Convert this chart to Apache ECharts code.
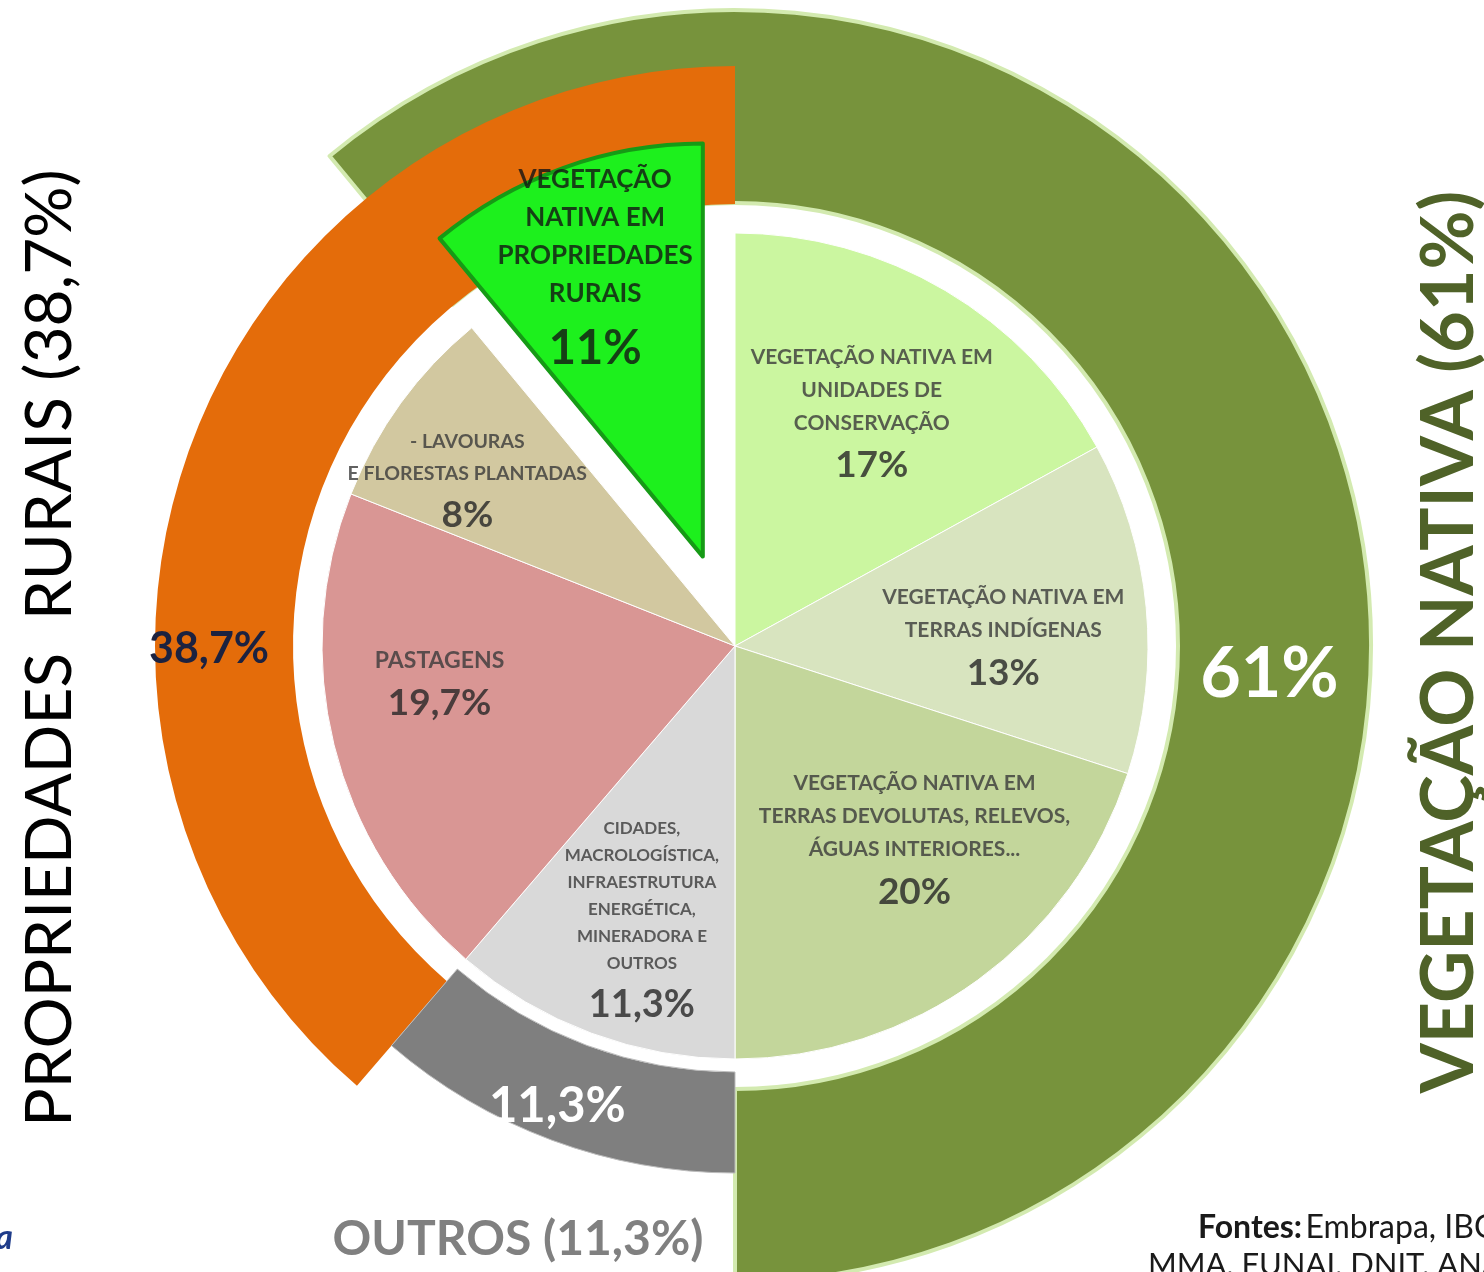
<!DOCTYPE html>
<html><head><meta charset="utf-8">
<script src="https://cdn.jsdelivr.net/npm/echarts@6/dist/echarts.min.js"></script>
<style>html,body{margin:0;padding:0;background:#fff}#c{width:1484px;height:1272px}</style>
</head><body><div id="c"></div>
<script>
// ---- data ----
const categories = [
  'VEGETAÇÃO NATIVA EM\nUNIDADES DE\nCONSERVAÇÃO',
  'VEGETAÇÃO NATIVA EM\nTERRAS INDÍGENAS',
  'VEGETAÇÃO NATIVA EM\nTERRAS DEVOLUTAS, RELEVOS,\nÁGUAS INTERIORES...',
  'CIDADES,\nMACROLOGÍSTICA,\nINFRAESTRUTURA\nENERGÉTICA,\nMINERADORA E\nOUTROS',
  'PASTAGENS',
  '- LAVOURAS\nE FLORESTAS PLANTADAS',
  'VEGETAÇÃO\nNATIVA EM\nPROPRIEDADES\nRURAIS'
];
const values = [17, 13, 20, 11.3, 19.7, 8, 11];
const valueLabels = ['17%', '13%', '20%', '11,3%', '19,7%', '8%', '11%'];
const ringNames = ['VEGETAÇÃO NATIVA', 'PROPRIEDADES RURAIS', 'OUTROS'];
const ringValues = [61, 38.7, 11.3];
const ringLabels = ['61%', '38,7%', '11,3%'];
const titleLeft = 'PROPRIEDADES  RURAIS (38,7%)';
const titleRight = 'VEGETAÇÃO NATIVA (61%)';
const titleBottom = 'OUTROS (11,3%)';

// ---- styles / layout ----
const FONT = 'Lato, "Open Sans", sans-serif';
const CX = 735, CY = 646, PIE_R = 413;
const EXPLODE = 95, LABEL_R = 276.5;
const sliceColors = ['#cbf6a0', '#d8e4bf', '#c3d69b', '#d9d9d9', '#d99694', '#d2c8a0', '#1df01d'];
const textStyle = ['m', 'm', 'm', 's', 'p', 't', 'l'];
const numStyle = ['n', 'n', 'n', 'ns', 'n', 'n', 'nl'];
const labelOffsets = [[-4, 8], [-7, 20], [17, -27], [3, 18], [-27, -26], [-44, 0], [-14, -24]];
const explodedIndex = 6;

const rich = {
  m: {fontFamily: FONT, fontWeight: 'bold', fontSize: 21, lineHeight: 33, color: '#3a3a3a', align: 'center'},
  p: {fontFamily: FONT, fontWeight: 'bold', fontSize: 23, lineHeight: 33, color: '#3a3a3a', align: 'center'},
  s: {fontFamily: FONT, fontWeight: 'bold', fontSize: 17, lineHeight: 27, color: '#3a3a3a', align: 'center'},
  t: {fontFamily: FONT, fontWeight: 'bold', fontSize: 19.5, lineHeight: 32, color: '#3a3a3a', align: 'center'},
  l: {fontFamily: FONT, fontWeight: 'bold', fontSize: 26, lineHeight: 38, color: '#141414', align: 'center'},
  n: {fontFamily: FONT, fontWeight: 'bold', fontSize: 37, lineHeight: 52, color: '#262626', align: 'center'},
  ns: {fontFamily: FONT, fontWeight: 'bold', fontSize: 38, lineHeight: 54, color: '#262626', align: 'center'},
  nl: {fontFamily: FONT, fontWeight: 'bold', fontSize: 47, lineHeight: 72, color: '#141414', align: 'center'}
};

function labelText(i) {
  const st = textStyle[i];
  const lines = categories[i].split('\n').map(s => '{' + st + '|' + s + '}');
  lines.push('{' + numStyle[i] + '|' + valueLabels[i] + '}');
  return lines.join('\n');
}

const innerData = values.map((v, i) => ({
  name: categories[i], value: v, selected: i === explodedIndex,
  itemStyle: i === explodedIndex
    ? {color: sliceColors[i], borderColor: '#169a16', borderWidth: 4}
    : {color: sliceColors[i], borderColor: '#ffffff', borderWidth: 1}
}));

// label anchor points in polar coords (radius, angle value), angle = middle of each slice
let cum = 0;
const labelPoints = values.map((v, i) => {
  const mid = cum + v / 2; cum += v;
  return {value: [LABEL_R + (i === explodedIndex ? EXPLODE : 0), mid], label: {offset: labelOffsets[i]}};
});

function ring(idx, radius, startAngle, clockwise, color, lblColor, lblSize, lblOffset, extra) {
  return {
    type: 'pie', center: [CX, CY], radius: radius, startAngle: startAngle, clockwise: clockwise,
    silent: true, avoidLabelOverlap: false, labelLine: {show: false},
    emphasis: {disabled: true},
    data: [
      {name: ringNames[idx], value: ringValues[idx],
       itemStyle: Object.assign({color: color}, extra || {}),
       label: {show: true, position: 'inside', formatter: ringLabels[idx], color: lblColor,
               fontFamily: FONT, fontWeight: 'bold', fontSize: lblSize, offset: lblOffset}},
      {name: '', value: 100 - ringValues[idx], itemStyle: {color: 'rgba(0,0,0,0)', borderWidth: 0}, label: {show: false}}
    ]
  };
}

const chart = echarts.init(document.getElementById('c'), null, {renderer: 'canvas'});
chart.setOption({
  backgroundColor: '#ffffff',
  animation: false,
  polar: {center: [CX, CY], radius: [0, PIE_R]},
  angleAxis: {type: 'value', min: 0, max: 100, startAngle: 90, clockwise: true, show: false,
              axisLine: {show: false}, axisLabel: {show: false}, axisTick: {show: false}, splitLine: {show: false}},
  radiusAxis: {type: 'value', min: 0, max: PIE_R, show: false,
               axisLine: {show: false}, axisLabel: {show: false}, axisTick: {show: false}, splitLine: {show: false}},
  series: [
    Object.assign(ring(0, [443, 636], 90 + values[explodedIndex] / 100 * 360, true, '#77933c', '#ffffff', 70, [24, 212],
      {borderColor: '#d3eab0', borderWidth: 4}), {z: 1}),
    Object.assign(ring(1, [442, 580], 90, false, '#e46c0a', '#1c2240', 43, [-44, 182]), {z: 2}),
    Object.assign(ring(2, [426, 527], 270, true, '#7f7f7f', '#ffffff', 49, [-11, 11],
      {borderColor: '#bdbdbd', borderWidth: 1}), {z: 2}),
    {
      type: 'pie', center: [CX, CY], radius: [0, PIE_R], startAngle: 90, clockwise: true,
      selectedMode: 'single', selectedOffset: EXPLODE, silent: true, avoidLabelOverlap: false,
      label: {show: false}, labelLine: {show: false}, emphasis: {disabled: true},
      z: 3, data: innerData
    },
    {
      type: 'scatter', coordinateSystem: 'polar', symbolSize: 1, silent: true, z: 5,
      itemStyle: {color: 'rgba(0,0,0,0)'},
      label: {show: true, position: 'inside', formatter: p => labelText(p.dataIndex), rich: rich},
      emphasis: {disabled: true},
      data: labelPoints
    }
  ],
  graphic: [
    {type: 'text', x: 50, y: 648, rotation: Math.PI / 2, z: 10,
     style: {text: titleLeft, font: '64px ' + FONT, fill: '#000000',
             textAlign: 'center', textVerticalAlign: 'middle', align: 'center', verticalAlign: 'middle'}},
    {type: 'text', x: 1450, y: 642, rotation: Math.PI / 2, z: 10,
     style: {text: titleRight, font: 'bold 72px ' + FONT, fill: '#4f6228',
             textAlign: 'center', textVerticalAlign: 'middle', align: 'center', verticalAlign: 'middle'}},
    {type: 'text', x: 518, y: 1240, z: 10,
     style: {text: titleBottom, font: 'bold 48px ' + FONT, fill: '#808080',
             textAlign: 'center', textVerticalAlign: 'middle', align: 'center', verticalAlign: 'middle'}},
    {type: 'text', x: 13, y: 1238, z: 10,
     style: {text: 'a', font: 'italic bold 34px ' + FONT, fill: '#1f3c8a',
             textAlign: 'right', textVerticalAlign: 'middle', align: 'right', verticalAlign: 'middle'}},
    {type: 'text', x: 1198, y: 1228, z: 10,
     style: {text: '{b|Fontes:} {r|Embrapa, IBGE,}',
             rich: {b: {font: 'bold 32px ' + FONT, fill: '#1a1a1a', color: '#1a1a1a'}, r: {font: '32px ' + FONT, fill: '#1a1a1a', color: '#1a1a1a'}},
             textAlign: 'left', textVerticalAlign: 'middle', align: 'left', verticalAlign: 'middle'}},
    {type: 'text', x: 1148, y: 1265, z: 10,
     style: {text: 'MMA, FUNAI, DNIT, ANA', font: '31px ' + FONT, fill: '#1a1a1a',
             textAlign: 'left', textVerticalAlign: 'middle', align: 'left', verticalAlign: 'middle'}}
  ]
});
</script>
</body></html>
